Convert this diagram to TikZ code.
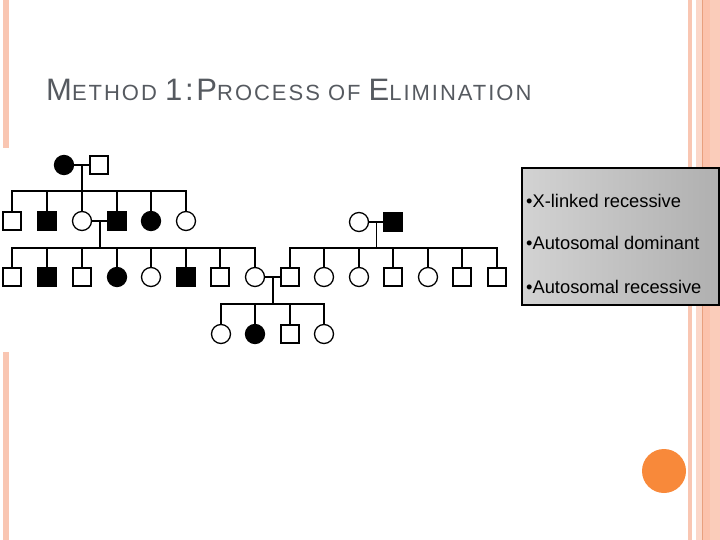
\documentclass[tikz,border=0pt]{standalone}
\usepackage{fontspec}
\setmainfont{Liberation Sans}
\newfontfamily\titlefont[LetterSpace=9]{Liberation Sans}
\usetikzlibrary{calc}
\definecolor{peach}{HTML}{F9C6B2}
\definecolor{peachdark}{HTML}{E9A07E}
\definecolor{peachmid}{HTML}{FCC2AC}
\definecolor{orangedot}{HTML}{F8893A}
\definecolor{titlegray}{HTML}{565A60}
\tikzset{
  ind/.style={draw=black, line width=1.3pt, inner sep=0pt, fill=white},
  msq/.style={ind, rectangle, minimum size=18pt},
  fsq/.style={msq, fill=black},
  fci/.style={ci, fill=black},
  ci/.style={ind, circle, minimum size=19pt},
  link/.style={line width=1.5pt},
  bullet/.style={anchor=west, font=\fontsize{18.3}{20}\selectfont, inner sep=0pt}
}
\newcommand{\bigsz}{\fontsize{31}{31}\selectfont}
\newcommand{\smsz}{\fontsize{22}{22}\selectfont}
\begin{document}
\begin{tikzpicture}[x=1pt,y=-1pt]
\useasboundingbox (0,0) rectangle (720,540);
% decorative bars
\fill[peach] (3,0) rectangle (9,148);
\fill[peach] (3,352) rectangle (9,540);
\fill[peach] (688,0) rectangle (692,540);
\fill[peach!70] (696,0) rectangle (702,540);
\fill[peachmid] (703,0) rectangle (710,540);
\fill[peach!90] (710,0) rectangle (720,540);
\fill[peachdark] (702,0) rectangle (703,540);
\fill[orangedot] (664,471) circle (22);
% title
\node[anchor=base west, inner sep=0pt, text=titlegray, font=\titlefont] (title) at (46,101)
  {\bigsz M\smsz ETHOD \bigsz 1:P\smsz ROCESS OF \bigsz E\smsz LIMINATION};
% generation I
\node[fci] (a1) at (64,165) {};
\node[msq] (a2) at (99,165) {};
% generation II
\node[msq] (b1) at (12,221) {};
\node[fsq] (b2) at (47,221) {};
\node[ci]  (b3) at (82,221) {};
\node[fsq] (b4) at (117,221) {};
\node[fci] (b5) at (151,221) {};
\node[ci]  (b6) at (186,221) {};
\node[ci]  (c1) at (359,222) {};
\node[fsq] (c2) at (393,222) {};
% generation III
\node[msq] (d1) at (12,277) {};
\node[fsq] (d2) at (47,277) {};
\node[msq] (d3) at (82,277) {};
\node[fci] (d4) at (117,277) {};
\node[ci]  (d5) at (151,277) {};
\node[fsq] (d6) at (186,277) {};
\node[msq] (d7) at (220,277) {};
\node[ci]  (d8) at (255,277) {};
\node[msq] (e1) at (290,277) {};
\node[ci]  (e2) at (324,277) {};
\node[ci]  (e3) at (359,277) {};
\node[msq] (e4) at (393,277) {};
\node[ci]  (e5) at (428,277) {};
\node[msq] (e6) at (462,277) {};
\node[msq] (e7) at (497,277) {};
% generation IV
\node[ci]  (f1) at (221,334) {};
\node[fci] (f2) at (255,334) {};
\node[msq] (f3) at (290,334) {};
\node[ci]  (f4) at (324,334) {};
% sibship levels
\coordinate (s1) at (0,191);
\coordinate (s2) at (0,248);
\coordinate (s3) at (0,304);
% family 1
\draw[link] (a1) -- (a2);
\coordinate (m1) at ($(a1.east)!0.5!(a2.west)$);
\draw[link] (m1) -- (m1 |- s1);
\draw[link] (b1.north) |- (b6.north |- s1) -- (b6.north);
\foreach \n in {b2,b3,b4,b5} \draw[link] (\n.north) -- (\n.north |- s1);
% family 2
\draw[link] (b3) -- (b4);
\coordinate (m2) at ($(b3.east)!0.5!(b4.west)$);
\draw[link] (m2) -- (m2 |- s2);
\draw[link] (d1.north) |- (d8.north |- s2) -- (d8.north);
\foreach \n in {d2,d3,d4,d5,d6,d7} \draw[link] (\n.north) -- (\n.north |- s2);
% family 3
\draw[link] (c1) -- (c2);
\coordinate (m3) at ($(c1.east)!0.5!(c2.west)$);
\draw[link] (m3) -- (m3 |- s2);
\draw[link] (e1.north) |- (e7.north |- s2) -- (e7.north);
\foreach \n in {e2,e3,e4,e5,e6} \draw[link] (\n.north) -- (\n.north |- s2);
% family 4
\draw[link] (d8) -- (e1);
\coordinate (m4) at ($(d8.east)!0.5!(e1.west)$);
\draw[link] (m4) -- (m4 |- s3);
\draw[link] (f1.north) |- (f4.north |- s3) -- (f4.north);
\foreach \n in {f2,f3} \draw[link] (\n.north) -- (\n.north |- s3);
% inheritance box
\shade[left color=gray!35, right color=gray!62, draw=black, line width=1.5pt] (522,168) rectangle (719,305);
\node[bullet] (t1) at (526,201) {•X-linked recessive};
\node[bullet] (t2) at (526,243) {•Autosomal dominant};
\node[bullet] (t3) at (526,287) {•Autosomal recessive};
\end{tikzpicture}
\end{document}
